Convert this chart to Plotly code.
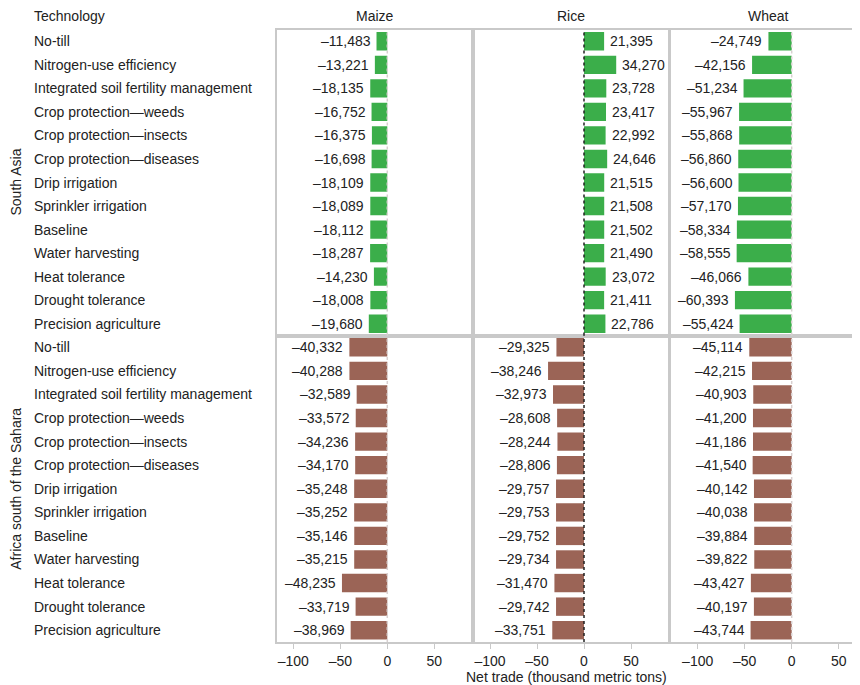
import plotly.graph_objects as go
from plotly.subplots import make_subplots

technologies = [
    "No-till", "Nitrogen-use efficiency", "Integrated soil fertility management",
    "Crop protection\u2014weeds", "Crop protection\u2014insects", "Crop protection\u2014diseases",
    "Drip irrigation", "Sprinkler irrigation", "Baseline", "Water harvesting",
    "Heat tolerance", "Drought tolerance", "Precision agriculture",
]
crops = ["Maize", "Rice", "Wheat"]
regions = ["South Asia", "Africa south of the Sahara"]

# net trade in metric tons x1000 (bars are drawn in thousand metric tons)
sa_maize = [-11483, -13221, -18135, -16752, -16375, -16698, -18109, -18089, -18112, -18287, -14230, -18008, -19680]
sa_rice = [21395, 34270, 23728, 23417, 22992, 24646, 21515, 21508, 21502, 21490, 23072, 21411, 22786]
sa_wheat = [-24749, -42156, -51234, -55967, -55868, -56860, -56600, -57170, -58334, -58555, -46066, -60393, -55424]
ssa_maize = [-40332, -40288, -32589, -33572, -34236, -34170, -35248, -35252, -35146, -35215, -48235, -33719, -38969]
ssa_rice = [-29325, -38246, -32973, -28608, -28244, -28806, -29757, -29753, -29752, -29734, -31470, -29742, -33751]
ssa_wheat = [-45114, -42215, -40903, -41200, -41186, -41540, -40142, -40038, -39884, -39822, -43427, -40197, -43744]
tick_vals = [-100, -50, 0, 50]
tick_text = ["\u2013100", "\u201350", "0", "50"]

panels = [
    [sa_maize, sa_rice, sa_wheat],
    [ssa_maize, ssa_rice, ssa_wheat],
]
region_colors = ["#3bae4a", "#9b6456"]

# the page body adds an 8px margin, so the figure is drawn 8px in from the corner
OFF = 8
W, H = 860 - OFF, 685 - OFF
FONT = "Liberation Sans, Arial, sans-serif"
FS = 14
GRID = "#c9c9c9"
INK = "#222"


def px(x):
    return (x - OFF) / W


def py(y):
    return 1 - (y - OFF) / H


# pixel geometry of the panels (in window pixels)
col_px = [(277, 472.7, 387.3), (473, 669, 584.0), (670, 860, 791.7)]
row_px = [(29.5, 335.5), (335.5, 642)]
px_per_unit = 0.94

fig = make_subplots(rows=2, cols=3, horizontal_spacing=0, vertical_spacing=0)


def fmt(v):
    s = f"{abs(v):,}"
    return ("\u2013" + s) if v < 0 else s


annotations = []
shapes = []
for r in range(2):
    for c in range(3):
        vals = panels[r][c]
        fig.add_trace(go.Bar(
            x=[v / 1000 for v in vals], y=technologies, orientation="h",
            marker=dict(color=region_colors[r], line=dict(width=0)),
            width=0.78, showlegend=False, hoverinfo="skip",
        ), row=r + 1, col=c + 1)
        idx = r * 3 + c + 1
        xa = "x" if idx == 1 else f"x{idx}"
        ya = "y" if idx == 1 else f"y{idx}"
        for t, v in zip(technologies, vals):
            annotations.append(dict(
                x=v / 1000, y=t, xref=xa, yref=ya, text=fmt(v), showarrow=False,
                xanchor="right" if v < 0 else "left", xshift=-4 if v < 0 else 4,
                font=dict(size=FS, color=INK, family=FONT),
            ))
        shapes.append(dict(
            type="line", xref=xa, yref=f"{ya} domain", x0=0, x1=0, y0=0, y1=1,
            line=dict(color=INK if c == 1 else "#d8d0d0", width=1.5, dash="dot"),
            layer="above",
        ))

for r in range(2):
    y0, y1 = row_px[r]
    for c in range(3):
        x0, x1, zero = col_px[c]
        idx = r * 3 + c + 1
        sfx = "" if idx == 1 else str(idx)
        lo = (x0 - zero) / px_per_unit
        hi = (x1 - zero) / px_per_unit
        fig.layout[f"xaxis{sfx}"].update(
            domain=[px(x0), min(px(x1), 1)], range=[lo, hi], showgrid=False, zeroline=False,
            showline=True, mirror=True, linecolor=GRID, linewidth=2,
            tickvals=tick_vals, ticktext=tick_text, ticks="outside" if r == 1 else "",
            ticklen=5, tickcolor=GRID, tickwidth=1,
            showticklabels=(r == 1), tickfont=dict(size=FS, color=INK, family=FONT),
        )
        fig.layout[f"yaxis{sfx}"].update(
            domain=[py(y1), py(y0)], categoryorder="array", categoryarray=technologies,
            range=[12.5, -0.5], showgrid=False, zeroline=False, showticklabels=False,
            showline=True, mirror=(c < 2), linecolor=GRID, linewidth=2, ticks="",
        )

# technology labels at the left
for r in range(2):
    ya = "y" if r == 0 else "y4"
    for t in technologies:
        annotations.append(dict(
            x=px(32), y=t, xref="paper", yref=ya, text=t, showarrow=False,
            xanchor="left", font=dict(size=FS, color=INK, family=FONT),
        ))
    y0, y1 = row_px[r]
    annotations.append(dict(
        x=px(16), y=py((y0 + y1) / 2), xref="paper", yref="paper", text=regions[r],
        textangle=-90, showarrow=False, xanchor="center", yanchor="middle",
        font=dict(size=FS, color=INK, family=FONT),
    ))

# headers
annotations.append(dict(x=px(32), y=py(16.5), xref="paper", yref="paper", text="Technology",
                        xanchor="left", yanchor="middle", showarrow=False,
                        font=dict(size=FS, color=INK, family=FONT)))
for c, name in enumerate(crops):
    x0, x1, zero = col_px[c]
    centre = (x0 + 196 / 2) if c == 2 else (x0 + x1) / 2
    annotations.append(dict(x=px(centre), y=py(16.5), xref="paper", yref="paper", text=name,
                            xanchor="center", yanchor="middle", showarrow=False,
                            font=dict(size=FS, color=INK, family=FONT)))
annotations.append(dict(x=px(566), y=py(677), xref="paper", yref="paper",
                        text="Net trade (thousand metric tons)", showarrow=False,
                        xanchor="center", yanchor="middle",
                        font=dict(size=FS, color=INK, family=FONT)))

fig.update_layout(
    width=W, height=H, margin=dict(l=0, r=0, t=0, b=0),
    plot_bgcolor="white", paper_bgcolor="white",
    font=dict(family=FONT, size=FS, color=INK),
    annotations=annotations, shapes=shapes, bargap=0.22,
)

fig.write_html("out.html")
